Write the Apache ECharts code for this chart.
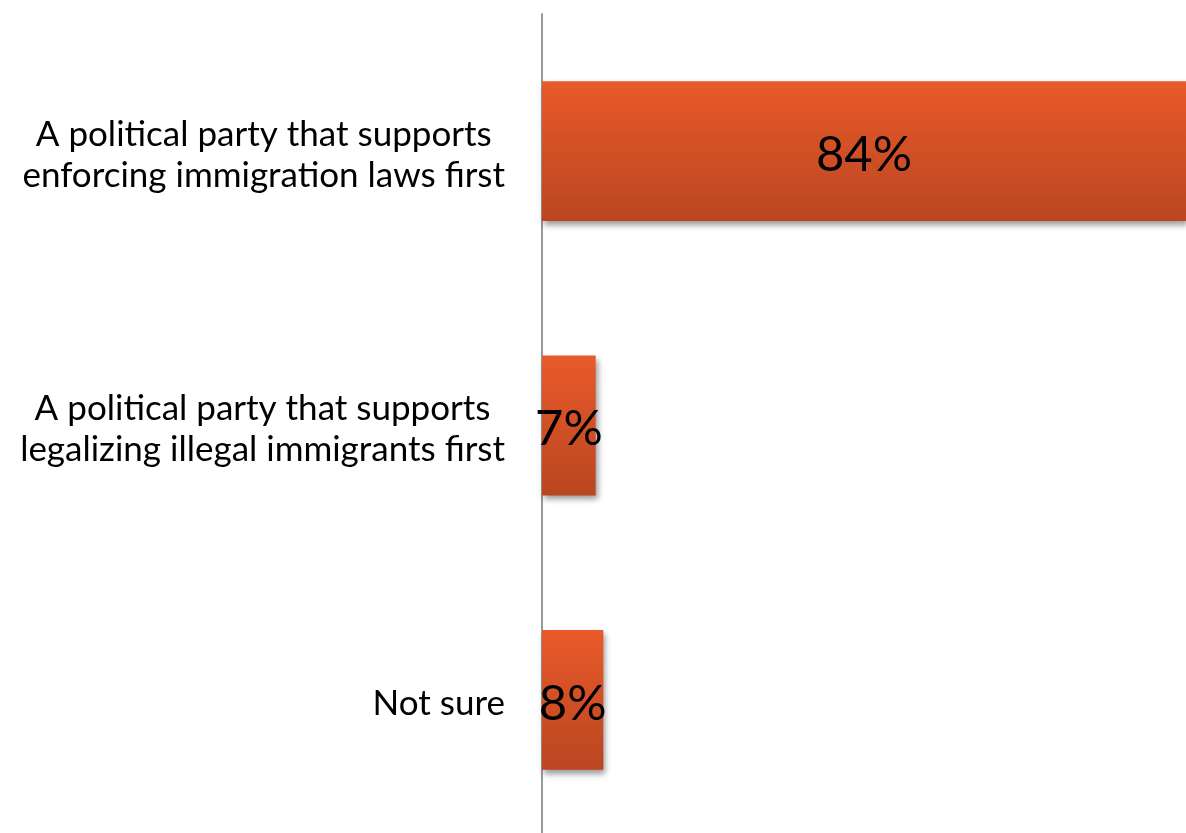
<!DOCTYPE html>
<html><head><meta charset="utf-8">
<script src="https://cdn.jsdelivr.net/npm/echarts@6/dist/echarts.min.js"></script>
<style>html,body{margin:0;padding:0;background:#fff}#c{width:1186px;height:833px}</style>
</head><body><div id="c"></div>
<script>
const categories = [
  "A political party that supports\nenforcing immigration laws first",
  "A political party that supports\nlegalizing illegal immigrants first",
  "Not sure"
];
const values = [84, 7, 8];

const chart = echarts.init(document.getElementById('c'));
chart.setOption({
  animation: false,
  backgroundColor: '#ffffff',
  grid: { left: 542, width: 644, top: 14, height: 823, containLabel: false, outerBoundsMode: 'none' },
  xAxis: {
    type: 'value', min: 0, max: 84,
    show: false
  },
  yAxis: {
    type: 'category', inverse: true, data: categories,
    axisLine: { show: true, lineStyle: { color: '#999999', width: 2 } },
    axisTick: { show: false },
    axisLabel: {
      color: '#000', fontFamily: 'Lato', fontSize: 35, lineHeight: 41,
      margin: 37, align: 'right', padding: [8, 0, 0, 0],
      formatter: v => v.split('\n').map(s => '{a|' + s + '}').join('\n'),
      rich: { a: { align: 'center', color: '#000', fontFamily: 'Lato', fontSize: 35, lineHeight: 41 } }
    }
  },
  series: [{
    type: 'bar', data: values, barCategoryGap: '49%',
    itemStyle: {
      color: { type: 'linear', x: 0, y: 0, x2: 0, y2: 1,
        colorStops: [{ offset: 0, color: '#E85A2A' }, { offset: 1, color: '#BA4620' }] },
      shadowColor: 'rgba(0,0,0,0.4)', shadowBlur: 6, shadowOffsetX: 2, shadowOffsetY: 4
    },
    label: {
      show: true, position: 'inside', formatter: '{c}%',
      color: '#000', fontFamily: 'Lato', fontSize: 49, offset: [0, 4]
    }
  }]
});
</script></body></html>
